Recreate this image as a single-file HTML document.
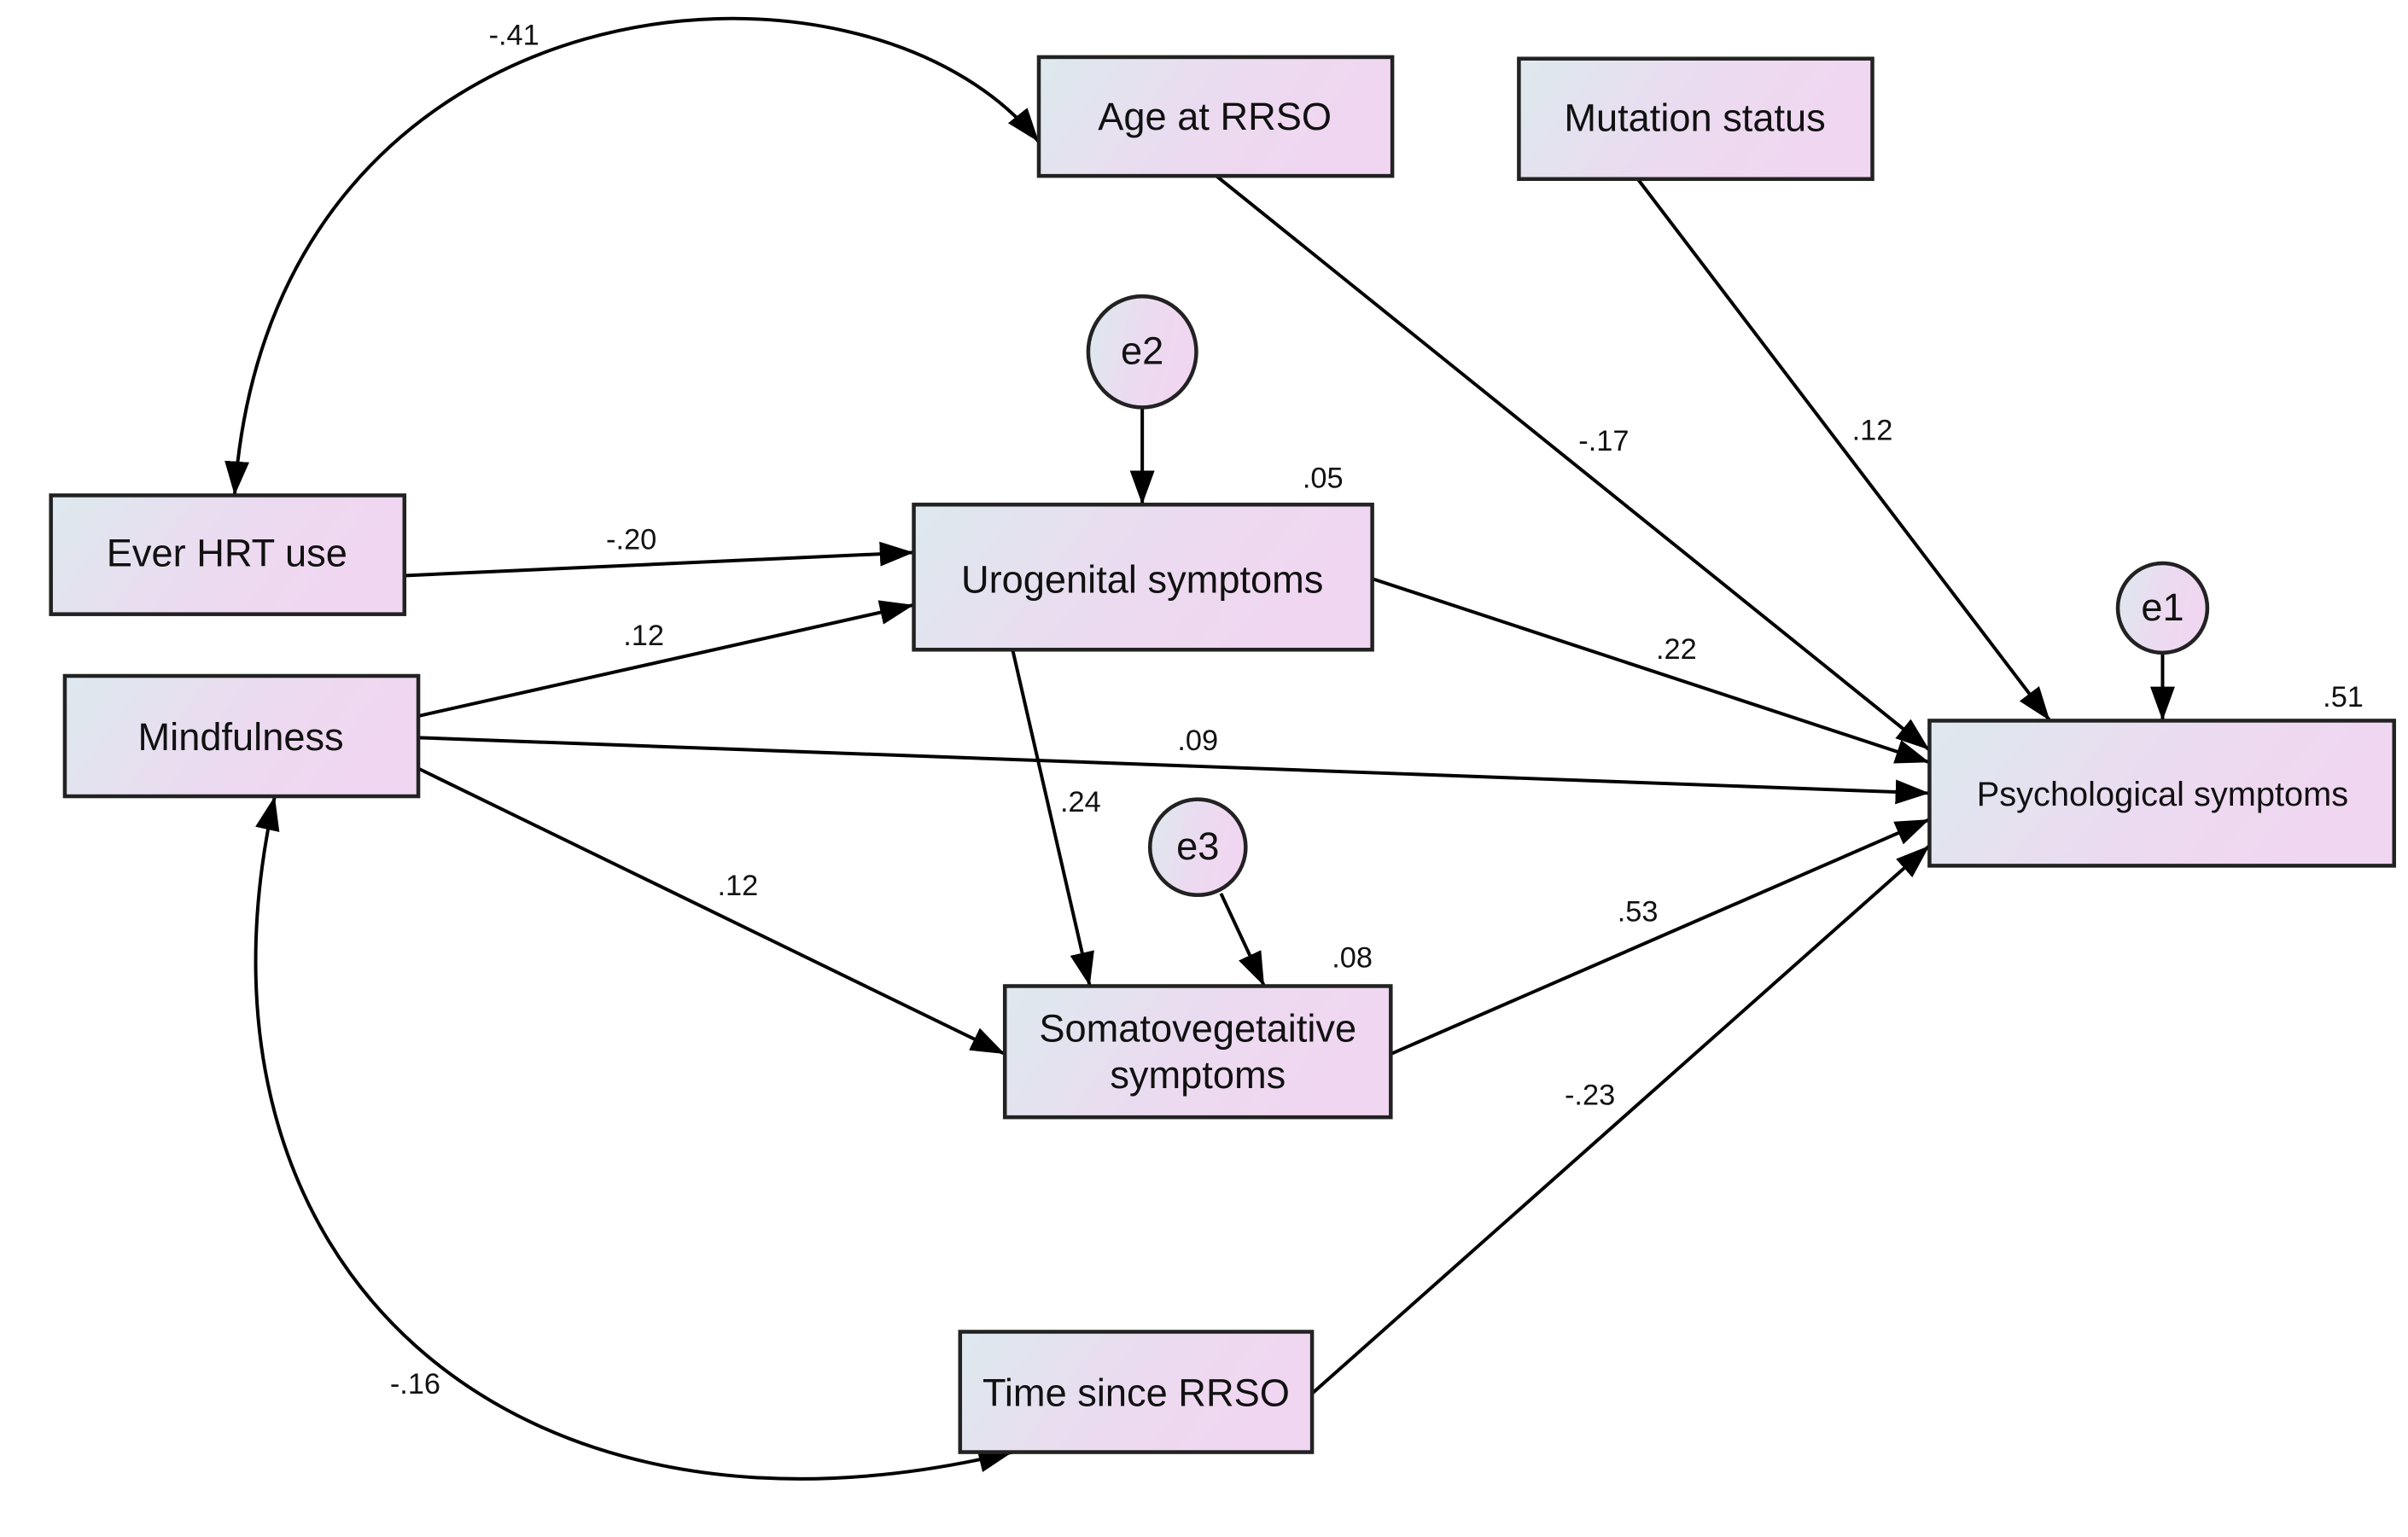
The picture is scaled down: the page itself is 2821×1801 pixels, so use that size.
<!DOCTYPE html>
<html><head><meta charset="utf-8"><style>
html,body{margin:0;padding:0;background:#fff;}
svg{display:block;}
text{font-family:"Liberation Sans",Arial,sans-serif;fill:#111;}
</style></head><body>
<svg width="2821" height="1801" viewBox="0 0 1560 996" preserveAspectRatio="none" xmlns="http://www.w3.org/2000/svg">
<defs>
<linearGradient id="g" x1="0" y1="0" x2="1" y2="0.25">
<stop offset="0" stop-color="#dde9ee"/><stop offset="0.6" stop-color="#ecdaf0"/><stop offset="1" stop-color="#f1d6f1"/>
</linearGradient>
<marker id="a" markerUnits="userSpaceOnUse" markerWidth="24" markerHeight="18" refX="22" refY="8" orient="auto-start-reverse">
<path d="M0,0 L22,8 L0,16 Z" fill="#000"/>
</marker>
</defs>
<g stroke="#000" stroke-width="2.2" fill="none" marker-end="url(#a)">
<line x1="788" y1="114" x2="1250" y2="486"/>
<line x1="1061" y1="116" x2="1328" y2="467"/>
<line x1="889" y1="375" x2="1250" y2="494"/>
<line x1="271" y1="478" x2="1250" y2="514"/>
<line x1="901" y1="683" x2="1250" y2="531"/>
<line x1="850" y1="903" x2="1250" y2="548"/>
<line x1="262" y1="373" x2="592" y2="358"/>
<line x1="271" y1="464" x2="592" y2="392"/>
<line x1="271" y1="498" x2="651" y2="683"/>
<line x1="656" y1="421" x2="706" y2="639"/>
<line x1="740" y1="264" x2="740" y2="327"/>
<line x1="791" y1="579" x2="819" y2="639"/>
<line x1="1401" y1="423" x2="1401" y2="467"/>
<path d="M673,92 C560,-50 175,-20 152,321" marker-start="url(#a)"/>
<path d="M178,516 C110,820 330,1020 656,941" marker-start="url(#a)"/>
</g>
<g stroke="#222" stroke-width="2.5" fill="url(#g)">
<rect x="673" y="37" width="229" height="77"/>
<rect x="984" y="38" width="229" height="78"/>
<rect x="33" y="321" width="229" height="77"/>
<rect x="42" y="438" width="229" height="78"/>
<rect x="592" y="327" width="297" height="94"/>
<rect x="1250" y="467" width="301" height="94"/>
<rect x="651" y="639" width="250" height="85"/>
<rect x="622" y="863" width="228" height="78"/>
<ellipse cx="740" cy="228" rx="35" ry="36"/>
<ellipse cx="1401" cy="394" rx="29" ry="29"/>
<ellipse cx="776" cy="549" rx="31" ry="31"/>
</g>
<g font-size="25" text-anchor="middle">
<text x="787" y="84">Age at RRSO</text>
<text x="1098" y="85">Mutation status</text>
<text x="147" y="367">Ever HRT use</text>
<text x="156" y="486">Mindfulness</text>
<text x="740" y="384">Urogenital symptoms</text>
<text x="1401" y="522" font-size="22">Psychological symptoms</text>
<text x="776" y="675">Somatovegetaitive</text>
<text x="776" y="705">symptoms</text>
<text x="736" y="911">Time since RRSO</text>
<text x="740" y="236">e2</text>
<text x="1401" y="402">e1</text>
<text x="776" y="557">e3</text>
</g>
<g font-size="19" text-anchor="middle">
<text x="333" y="29">-.41</text>
<text x="409" y="356">-.20</text>
<text x="417" y="418">.12</text>
<text x="776" y="486">.09</text>
<text x="478" y="580">.12</text>
<text x="700" y="526">.24</text>
<text x="857" y="316">.05</text>
<text x="876" y="627">.08</text>
<text x="1039" y="292">-.17</text>
<text x="1213" y="285">.12</text>
<text x="1086" y="427">.22</text>
<text x="1518" y="458">.51</text>
<text x="1061" y="597">.53</text>
<text x="1030" y="716">-.23</text>
<text x="269" y="903">-.16</text>
</g>
</svg>
</body></html>
